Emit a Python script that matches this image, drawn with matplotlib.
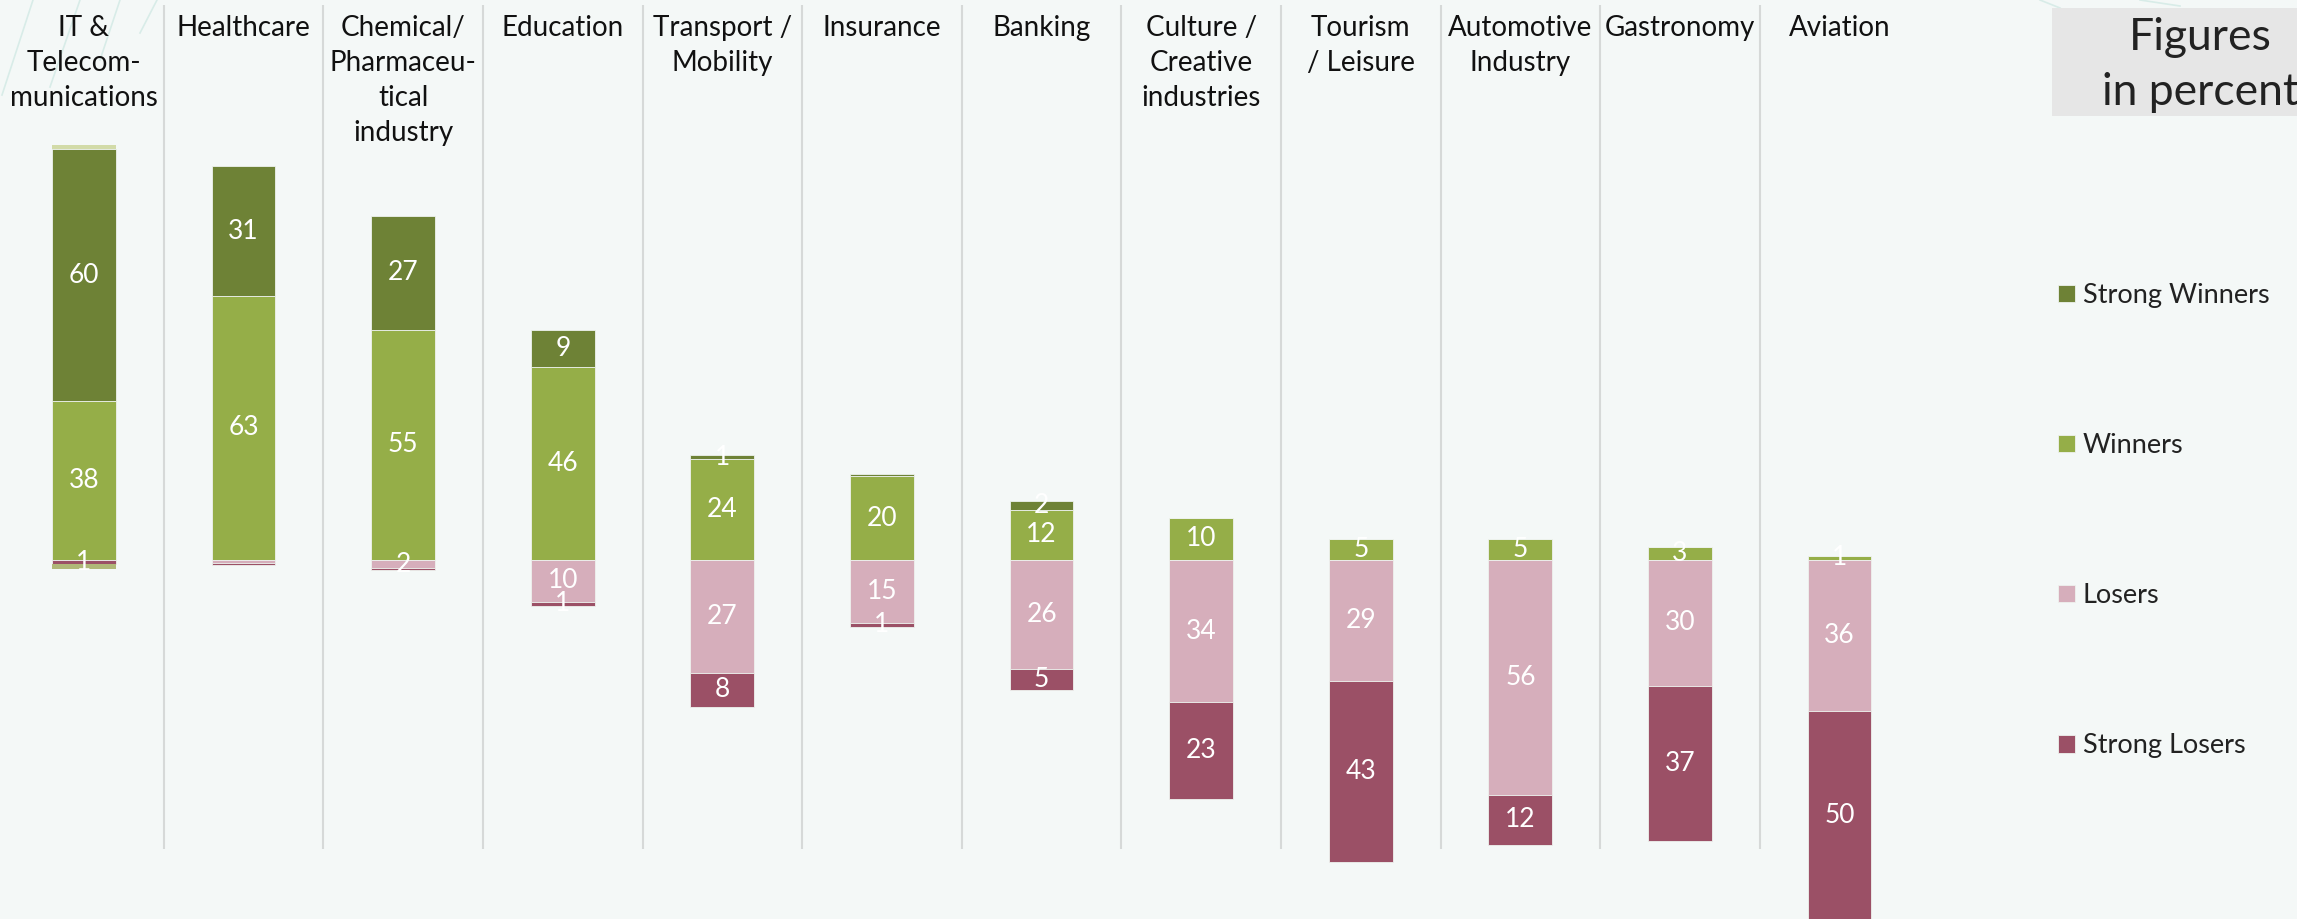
import matplotlib.pyplot as plt
from matplotlib.patches import Rectangle
from matplotlib.lines import Line2D

plt.rcParams['font.family'] = ['Lato', 'DejaVu Sans']

# data (percent)
categories = ['IT &\nTelecom-\nmunications', 'Healthcare', 'Chemical/\nPharmaceu-\ntical\nindustry',
              'Education', 'Transport /\nMobility', 'Insurance', 'Banking',
              'Culture /\nCreative\nindustries', 'Tourism\n/ Leisure', 'Automotive\nIndustry',
              'Gastronomy', 'Aviation']
strong_winners = [60, 31, 27, 9, 1, 0.5, 2, 0, 0, 0, 0, 0]
winners = [38, 63, 55, 46, 24, 20, 12, 10, 5, 5, 3, 1]
losers = [0, 0.7, 2, 10, 27, 15, 26, 34, 29, 56, 30, 36]
strong_losers = [1, 0.4, 0.5, 1, 8, 1, 5, 23, 43, 12, 37, 50]
# small unlabelled rest segments (only visible for IT)
rest_top = [1.1, 0, 0, 0, 0, 0, 0, 0, 0, 0, 0, 0]
rest_bottom = [1.2, 0, 0, 0, 0, 0, 0, 0, 0, 0, 0, 0]

c_sw, c_w, c_l, c_sl = '#6e8236', '#95ae48', '#d6aebb', '#9b5066'
bg = '#f4f8f7'

fig = plt.figure(figsize=(22.97, 9.19), dpi=100)
fig.patch.set_facecolor(bg)
ax = fig.add_axes([0, 0, 1, 1])
ax.set_facecolor(bg)
ax.axis('off')

x = range(len(categories))
w = 0.4
ekw = dict(width=w, edgecolor='#eef2ee', linewidth=0.6)
b_w = ax.bar(x, winners, color=c_w, **ekw)
b_sw = ax.bar(x, strong_winners, bottom=winners, color=c_sw, **ekw)
ax.bar(x, rest_top, bottom=[a + b for a, b in zip(winners, strong_winners)], color='#d2dba8', width=w, linewidth=0)
b_l = ax.bar(x, [-v for v in losers], color=c_l, **ekw)
b_sl = ax.bar(x, [-v for v in strong_losers], bottom=[-v for v in losers], color=c_sl, **ekw)
ax.bar(x, [-v for v in rest_bottom], bottom=[-(a + b) for a, b in zip(losers, strong_losers)],
       color='#b0b878', width=w, linewidth=0)

# value labels
for i in x:
    segs = [(winners[i] / 2, winners[i]),
            (winners[i] + strong_winners[i] / 2, strong_winners[i]),
            (-losers[i] / 2, losers[i]),
            (-losers[i] - strong_losers[i] / 2, strong_losers[i])]
    for yc, v in segs:
        if v >= 1:
            ax.text(i, yc, f'{v:g}', ha='center', va='center', color='white', fontsize=19)

# separators and category labels
ax.vlines([i + 0.5 for i in range(len(categories) - 1)], -69, 132.5, color='#d6d9d8', lw=1.5)
for i, name in enumerate(categories):
    ax.text(i, 130.0, name, ha='center', va='top', fontsize=20, color='#111111', linespacing=1.42)

ax.set_xlim(-0.526, 13.866)
ax.set_ylim(-85.7, 133.65)

# legend
handles = [b_sw, b_w, b_l, b_sl]
labels = ['Strong Winners', 'Winners', 'Losers', 'Strong Losers']
leg = ax.legend(handles, labels, loc='upper left', bbox_to_anchor=(2058 / 2297, 1 - 283 / 919),
                bbox_transform=fig.transFigure, frameon=False, fontsize=19.5, labelspacing=4.62,
                handlelength=0.62, handleheight=0.62, handletextpad=0.3, borderpad=0, borderaxespad=0)
for t in leg.get_texts():
    t.set_color('#222222')

# "Figures in percent" box
fig.patches.append(Rectangle((2052 / 2297, 1 - 116 / 919), 0.2, 108 / 919, transform=fig.transFigure,
                             facecolor='#e6e6e6', edgecolor='none', zorder=0))
fig.text(2200 / 2297, 1 - 65 / 919, 'Figures\nin percent', ha='center', va='center',
         fontsize=32, color='#222222', linespacing=1.45)

# faint decorative lines
for (x0, y0, x1, y1) in [(2, 95, 33, 0), (50, 87, 80, 0), (100, 60, 120, 0), (140, 33, 157, 0),
                         (2040, 0, 2060, 8), (2140, 0, 2180, 6)]:
    fig.add_artist(Line2D([x0 / 2297, x1 / 2297], [1 - y0 / 919, 1 - y1 / 919],
                          transform=fig.transFigure, color='#d8ece8', lw=1.2, zorder=0))

fig.savefig('out.png', dpi=100, facecolor=bg)
